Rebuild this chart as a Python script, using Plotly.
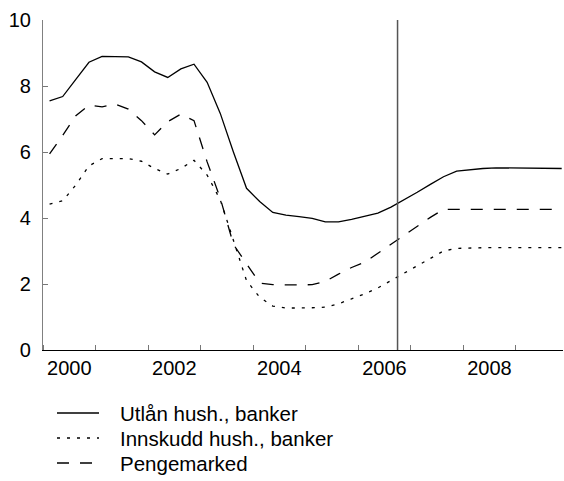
import plotly.graph_objects as go

# Quarterly observations, 2000 Q1 - 2009 Q4 (plotted at mid-quarter)
quarters = [2000 + q / 4 + 0.125 for q in range(40)]

utlan = [7.55, 7.68, 8.2, 8.72, 8.9, 8.9, 8.88, 8.73, 8.43, 8.26,
         8.52, 8.66, 8.11, 7.17, 6.0, 4.9, 4.5, 4.17, 4.09, 4.04,
         3.99, 3.88, 3.88, 3.96, 4.05, 4.15, 4.33, 4.55, 4.78, 5.02,
         5.25, 5.42, 5.47, 5.5, 5.52, 5.52, 5.5, 5.5, 5.5, 5.5]

innskudd = [4.42, 4.52, 5.0, 5.58, 5.8, 5.81, 5.8, 5.72, 5.5, 5.33,
            5.5, 5.75, 5.3, 4.55, 3.3, 2.1, 1.6, 1.33, 1.27, 1.27,
            1.28, 1.3, 1.4, 1.55, 1.7, 1.88, 2.1, 2.34, 2.56, 2.78,
            3.0, 3.08, 3.1, 3.1, 3.1, 3.1, 3.1, 3.1, 3.1, 3.1]

pengemarked = [5.94, 6.5, 7.1, 7.42, 7.37, 7.45, 7.3, 6.95, 6.52, 6.92,
               7.15, 6.95, 5.7, 4.6, 3.2, 2.62, 2.03, 1.98, 1.97, 1.97,
               1.98, 2.08, 2.3, 2.5, 2.66, 2.93, 3.19, 3.47, 3.74, 4.02,
               4.26, 4.26, 4.26, 4.26, 4.26, 4.26, 4.26, 4.26, 4.26, 4.26]

series_names = ["Utlån hush., banker", "Innskudd hush., banker", "Pengemarked"]
x_tick_vals = [2000.5, 2002.5, 2004.5, 2006.5, 2008.5]
x_tick_text = ["2000", "2002", "2004", "2006", "2008"]
y_tick_vals = [0, 2, 4, 6, 8, 10]
forecast_start = 2006.75

FONT = "Arial, Liberation Sans, Helvetica, sans-serif"
DASHES = ["solid", "3px,7px", "12px,11px"]

# plot-area geometry in pixels (used only to place the key below the plot)
L, T, W, H = 43, 20, 520, 330

fig = go.Figure()
for name, vals, dash in zip(series_names, [utlan, innskudd, pengemarked], DASHES):
    fig.add_trace(go.Scatter(x=quarters, y=vals, mode="lines", name=name,
                             showlegend=False,
                             line=dict(color="black", width=1.3, dash=dash)))

fig.add_shape(type="line", xref="x", yref="y", x0=forecast_start, x1=forecast_start,
              y0=0, y1=10, line=dict(color="#555555", width=1.5))

# key below the plot
for i, (name, dash) in enumerate(zip(series_names, DASHES)):
    ypix = 413 + 25 * i
    yp = 1 - (ypix - T) / H
    fig.add_shape(type="line", xref="paper", yref="paper",
                  x0=(57 - L) / W, x1=(99 - L) / W, y0=yp, y1=yp,
                  line=dict(color="black", width=1.3, dash=dash))
    fig.add_annotation(xref="paper", yref="paper", x=(118 - L) / W, y=yp,
                       xanchor="left", yanchor="middle", showarrow=False,
                       text=name, font=dict(size=20.5, family=FONT, color="black"))

fig.update_layout(
    width=564, height=481,
    margin=dict(l=L, r=564 - L - W, t=T, b=481 - T - H, autoexpand=False),
    paper_bgcolor="white", plot_bgcolor="white",
    font=dict(family=FONT, size=20, color="black"),
    showlegend=False,
    xaxis=dict(range=[2000, 2009.9], showgrid=False, zeroline=False,
               showline=True, linecolor="black", linewidth=1.2, automargin=False,
               tickmode="array", tickvals=x_tick_vals, ticktext=x_tick_text,
               ticks="", tickfont=dict(size=20), ticklabelstandoff=0,
               minor=dict(tickmode="linear", tick0=2000, dtick=1, ticks="inside",
                          ticklen=5, tickcolor="#777777", tickwidth=1, showgrid=False)),
    yaxis=dict(range=[0, 10], showgrid=False, zeroline=False, automargin=False,
               showline=True, linecolor="#808080", linewidth=1.2,
               tickmode="array", tickvals=y_tick_vals, ticks="inside",
               ticklen=5, tickcolor="#777777", tickfont=dict(size=20),
               ticklabelstandoff=7),
)

fig.write_html("out.html", config={"displayModeBar": False},
               post_script="document.body.style.margin='0';document.body.style.overflow='hidden';")
